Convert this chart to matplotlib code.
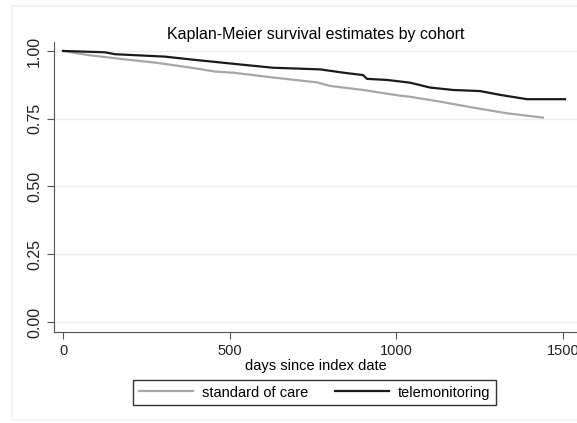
import matplotlib.pyplot as plt
from matplotlib.patches import Rectangle

plt.rcParams["font.family"] = ["Liberation Sans", "DejaVu Sans"]

# Kaplan-Meier estimates (days, survival)
soc_days = [0, 75, 177, 276, 375, 456, 516, 630, 762, 801, 900, 1011, 1041,
            1131, 1230, 1332, 1440]
soc_surv = [1.0, 0.985, 0.970, 0.957, 0.940, 0.924, 0.919, 0.902, 0.884, 0.871,
            0.856, 0.835, 0.831, 0.813, 0.791, 0.770, 0.754]

tele_days = [0, 126, 156, 306, 396, 516, 630, 771, 852, 900, 912, 972, 1041,
             1101, 1170, 1251, 1311, 1392, 1506]
tele_surv = [1.0, 0.995, 0.988, 0.979, 0.967, 0.952, 0.938, 0.932, 0.918,
             0.911, 0.897, 0.893, 0.883, 0.865, 0.856, 0.852, 0.838, 0.822, 0.822]

x_ticks = [0, 500, 1000, 1500]
y_ticks = [0.0, 0.25, 0.5, 0.75, 1.0]
y_labels = ["0.00", "0.25", "0.50", "0.75", "1.00"]

fig = plt.figure(figsize=(5.77, 4.23), dpi=100)

# faint outer frame of the graph region
fig.patches.append(Rectangle((12 / 577, 3 / 423), 1.0, 1 - 9 / 423,
                             transform=fig.transFigure, fill=False,
                             edgecolor="#eef4f5", linewidth=1.2))

ax = fig.add_axes([54 / 577, 1 - 332 / 423, 1 - 54 / 577, 290 / 423])

ax.plot(soc_days, soc_surv, color="#a6a6a6", lw=1.6, label="standard of care")
ax.plot(tele_days, tele_surv, color="#1a1a1a", lw=1.6, label="telemonitoring")

ax.set_xlim(-27, 1542)
ax.set_ylim(-0.037, 1.033)
ax.set_xticks(x_ticks)
ax.set_yticks(y_ticks)
ax.set_yticklabels(y_labels, rotation=90, va="center")
ax.tick_params(labelsize=10.5, length=5, color="#555555", labelcolor="#222222")
ax.tick_params(axis="y", labelsize=11.5)

for y in y_ticks:
    ax.axhline(y, color="#e8f1f2", lw=1, zorder=0)

for s in ["top", "right"]:
    ax.spines[s].set_visible(False)
for s in ["left", "bottom"]:
    ax.spines[s].set_color("#555555")

ax.set_xlabel("days since index date", fontsize=10.5, labelpad=1)
ax.set_title("Kaplan-Meier survival estimates by cohort", fontsize=11.5, pad=1.5)

leg = fig.legend(loc="center", bbox_to_anchor=(314.5 / 577, 1 - 392.5 / 423),
                 ncol=2, fontsize=10.5, handlelength=3.7, handletextpad=0.6,
                 columnspacing=1.85, fancybox=False, edgecolor="#333333",
                 framealpha=1)
leg.get_frame().set_linewidth(1.0)

plt.savefig("out.png", dpi=100)
